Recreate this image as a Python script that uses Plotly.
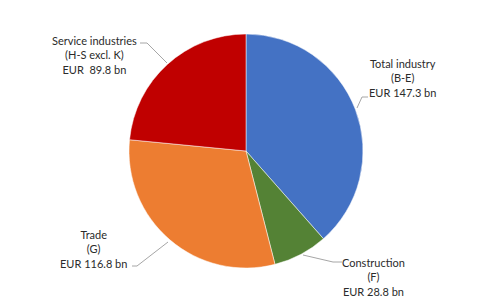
import plotly.graph_objects as go

W, H = 492, 302

labels = ["Total industry (B-E)", "Construction (F)", "Trade (G)", "Service industries (H-S excl. K)"]
values = [147.3, 28.8, 116.8, 89.8]
colors = ["#4472C4", "#548235", "#ED7D31", "#C00000"]
label_texts = [
    "Total industry<br>(B-E)<br>EUR 147.3 bn",
    "Construction<br>(F)<br>EUR 28.8 bn",
    "Trade<br>(G)<br>EUR 116.8 bn",
    "Service industries<br>(H-S excl. K)<br>EUR  89.8 bn",
]

def px(x, y):
    return x / W, 1 - y / H

fig = go.Figure(go.Pie(
    labels=labels, values=values, sort=False, direction="clockwise", rotation=0,
    marker=dict(colors=colors, line=dict(color="white", width=0.5)),
    textinfo="none", hoverinfo="label+value", showlegend=False,
    domain=dict(x=[129 / W, 363 / W], y=[34 / H, 1 - 34 / H]),
))

# label centre positions (pixel) for each slice
label_pos = [(402, 78), (373, 277), (93, 249), (94, 55)]
for t, (x, y) in zip(label_texts, label_pos):
    ax, ay = px(x, y)
    fig.add_annotation(x=ax, y=ay, xref="paper", yref="paper", text=t, showarrow=False,
                       xanchor="center", yanchor="middle", align="center",
                       font=dict(family="Lato", size=11, color="#2b2b2b"))

leaders = [
    [(368, 97), (362, 97), (357, 108)],
    [(342, 262), (333, 262), (303, 255)],
    [(132, 266), (137, 266), (168, 242)],
    [(140, 43), (147, 43), (167, 63)],
]
for pts in leaders:
    for (x0, y0), (x1, y1) in zip(pts[:-1], pts[1:]):
        a0, b0 = px(x0, y0)
        a1, b1 = px(x1, y1)
        fig.add_shape(type="line", x0=a0, y0=b0, x1=a1, y1=b1, xref="paper", yref="paper",
                      line=dict(color="#A6A6A6", width=1))

fig.update_layout(width=W, height=H, margin=dict(l=0, r=0, t=0, b=0),
                  paper_bgcolor="white", plot_bgcolor="white")
fig.write_html("out.html")
